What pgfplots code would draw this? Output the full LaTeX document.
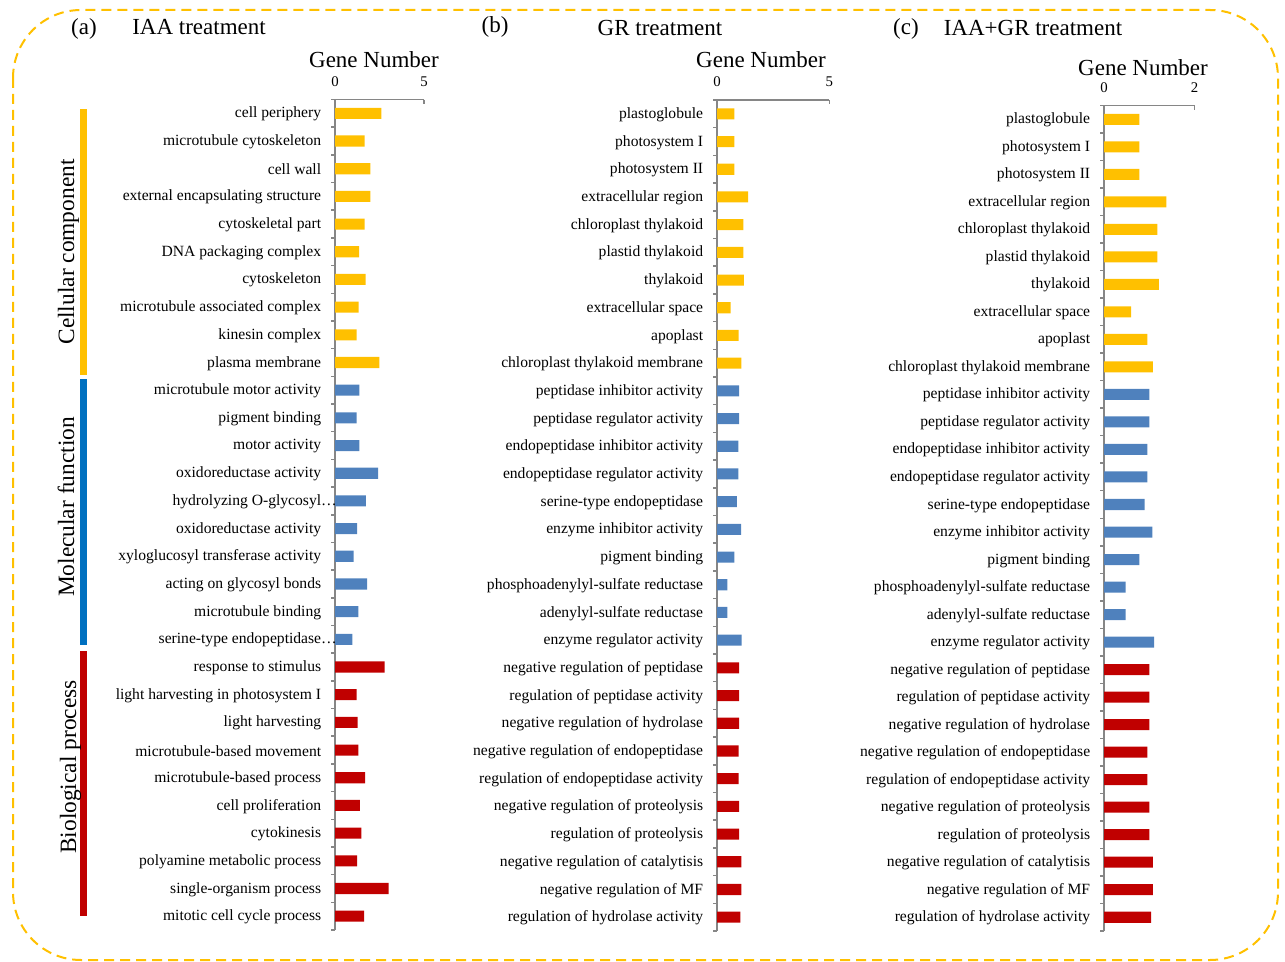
\documentclass[border=0pt]{standalone}
\usepackage{fontspec}
\setmainfont{Liberation Serif}
\usepackage{pgfplots}
\pgfplotsset{compat=1.18}
\definecolor{cOr}{HTML}{FFC000}
\definecolor{cBl}{HTML}{4F81BD}
\definecolor{cRd}{HTML}{C00000}
\definecolor{cBlS}{HTML}{0070C0}
\definecolor{axg}{HTML}{868686}

\pgfplotsset{goax/.style={
  scale only axis,
  anchor=north west,
  axis x line*=top, axis y line*=left,
  xmin=0, ymin=-0.5, ymax=29.5, y dir=reverse,
  ytick={0,...,29},
  minor ytick={-0.5,0.5,...,29.5},
  tick align=outside,
  major tick length=2pt, minor tick length=2pt,
  tick style={draw=axg, line width=0.75pt},
  every major y tick/.append style={draw=none},
  every major x tick/.append style={yshift=-2pt},
  axis line style={draw=axg, line width=0.75pt},
  yticklabel style={font=\fontsize{7.8}{9}\selectfont, xshift=-1.4pt, yshift=-0.4pt},
  xticklabel style={font=\fontsize{7.4}{8}\selectfont, yshift=1pt},
  /pgf/number format/assume math mode=true,
  clip=false,
},
barO/.style={xbar, bar shift=0pt, bar width=0.4, fill=cOr, draw=none},
barB/.style={xbar, bar shift=0pt, bar width=0.4, fill=cBl, draw=none},
barR/.style={xbar, bar shift=0pt, bar width=0.4, fill=cRd, draw=none},
}

\begin{document}
\begin{tikzpicture}
\useasboundingbox (0,0) rectangle (642.5pt,-481pt);
\draw[cOr, line width=1pt, dash pattern=on 5pt off 3pt, rounded corners=34pt] (6.5pt,-5pt) rectangle (639pt,-480pt);

% ---------- panel (a)
\begin{axis}[goax, at={(167.5pt,-49.75pt)}, width=44.5pt, height=415.25pt,
  xmax=5, xtick={0,5},
  yticklabels={cell periphery, microtubule cytoskeleton, cell wall, external encapsulating structure, cytoskeletal part, DNA packaging complex, cytoskeleton, microtubule associated complex, kinesin complex, plasma membrane, microtubule motor activity, pigment binding, motor activity, oxidoreductase activity, hydrolyzing O-glycosyl\rlap{…}, oxidoreductase activity, xyloglucosyl transferase activity, acting on glycosyl bonds, microtubule binding, serine-type endopeptidase\rlap{…}, response to stimulus, light harvesting in photosystem I, light harvesting, microtubule-based movement, microtubule-based process, cell proliferation, cytokinesis, polyamine metabolic process, single-organism process, mitotic cell cycle process}]
\addplot[barO] coordinates {(2.60,0) (1.67,1) (1.99,2) (1.99,3) (1.67,4) (1.35,5) (1.72,6) (1.33,7) (1.22,8) (2.49,9)};
\addplot[barB] coordinates {(1.37,10) (1.22,11) (1.37,12) (2.42,13) (1.74,14) (1.24,15) (1.05,16) (1.80,17) (1.31,18) (0.97,19)};
\addplot[barR] coordinates {(2.79,20) (1.22,21) (1.27,22) (1.31,23) (1.69,24) (1.40,25) (1.48,26) (1.24,27) (3.01,28) (1.63,29)};
\end{axis}

% ---------- panel (b)
\begin{axis}[goax, at={(358.5pt,-50pt)}, width=56.15pt, height=415.5pt,
  xmax=5, xtick={0,5},
  yticklabels={plastoglobule, photosystem I, photosystem II, extracellular region, chloroplast thylakoid, plastid thylakoid, thylakoid, extracellular space, apoplast, chloroplast thylakoid membrane, peptidase inhibitor activity, peptidase regulator activity, endopeptidase inhibitor activity, endopeptidase regulator activity, serine-type endopeptidase, enzyme inhibitor activity, pigment binding, phosphoadenylyl-sulfate reductase, adenylyl-sulfate reductase, enzyme regulator activity, negative regulation of peptidase, regulation of peptidase activity, negative regulation of hydrolase, negative regulation of endopeptidase, regulation of endopeptidase activity, negative regulation of proteolysis, regulation of proteolysis, negative regulation of catalytisis, negative regulation of MF, regulation of hydrolase activity}]
\addplot[barO] coordinates {(0.77,0) (0.77,1) (0.77,2) (1.38,3) (1.17,4) (1.17,5) (1.20,6) (0.61,7) (0.96,8) (1.08,9)};
\addplot[barB] coordinates {(0.99,10) (0.99,11) (0.95,12) (0.95,13) (0.89,14) (1.07,15) (0.77,16) (0.46,17) (0.46,18) (1.10,19)};
\addplot[barR] coordinates {(0.99,20) (0.99,21) (0.99,22) (0.96,23) (0.96,24) (0.99,25) (0.99,26) (1.08,27) (1.08,28) (1.04,29)};
\end{axis}

% ---------- panel (c)
\begin{axis}[goax, at={(552pt,-52.75pt)}, width=45.25pt, height=412.75pt,
  xmax=2, xtick={0,2},
  yticklabels={plastoglobule, photosystem I, photosystem II, extracellular region, chloroplast thylakoid, plastid thylakoid, thylakoid, extracellular space, apoplast, chloroplast thylakoid membrane, peptidase inhibitor activity, peptidase regulator activity, endopeptidase inhibitor activity, endopeptidase regulator activity, serine-type endopeptidase, enzyme inhibitor activity, pigment binding, phosphoadenylyl-sulfate reductase, adenylyl-sulfate reductase, enzyme regulator activity, negative regulation of peptidase, regulation of peptidase activity, negative regulation of hydrolase, negative regulation of endopeptidase, regulation of endopeptidase activity, negative regulation of proteolysis, regulation of proteolysis, negative regulation of catalytisis, negative regulation of MF, regulation of hydrolase activity}]
\addplot[barO] coordinates {(0.78,0) (0.78,1) (0.78,2) (1.38,3) (1.18,4) (1.18,5) (1.21,6) (0.60,7) (0.96,8) (1.08,9)};
\addplot[barB] coordinates {(1.00,10) (1.00,11) (0.96,12) (0.96,13) (0.90,14) (1.07,15) (0.78,16) (0.48,17) (0.48,18) (1.11,19)};
\addplot[barR] coordinates {(1.00,20) (1.00,21) (1.00,22) (0.96,23) (0.96,24) (1.00,25) (1.00,26) (1.08,27) (1.08,28) (1.04,29)};
\end{axis}

% ---------- titles
\begin{scope}[every node/.style={font=\fontsize{11.5}{13}\selectfont, anchor=base, inner sep=0pt}]
\node at (42pt,-17.5pt) {(a)};
\node at (99.5pt,-17.5pt) {IAA treatment};
\node at (247.5pt,-16.5pt) {(b)};
\node at (330pt,-18pt) {GR treatment};
\node at (453pt,-17.5pt) {(c)};
\node at (516.5pt,-18pt) {IAA+GR treatment};
\node at (187pt,-34pt) {Gene Number};
\node at (380.5pt,-34pt) {Gene Number};
\node at (571.5pt,-38pt) {Gene Number};
\end{scope}

% ---------- category side bars
\fill[cOr] (40pt,-54.5pt) rectangle (43.5pt,-187.5pt);
\fill[cBlS] (40pt,-189.5pt) rectangle (43.5pt,-322.5pt);
\fill[cRd] (40pt,-325.5pt) rectangle (43.5pt,-458pt);
\begin{scope}[every node/.style={font=\fontsize{11.7}{13}\selectfont, anchor=base, rotate=90, inner sep=0pt}]
\node at (37pt,-126pt) {Cellular component};
\node at (37pt,-253.5pt) {Molecular function};
\node at (38pt,-383.5pt) {Biological process};
\end{scope}
\end{tikzpicture}
\end{document}
